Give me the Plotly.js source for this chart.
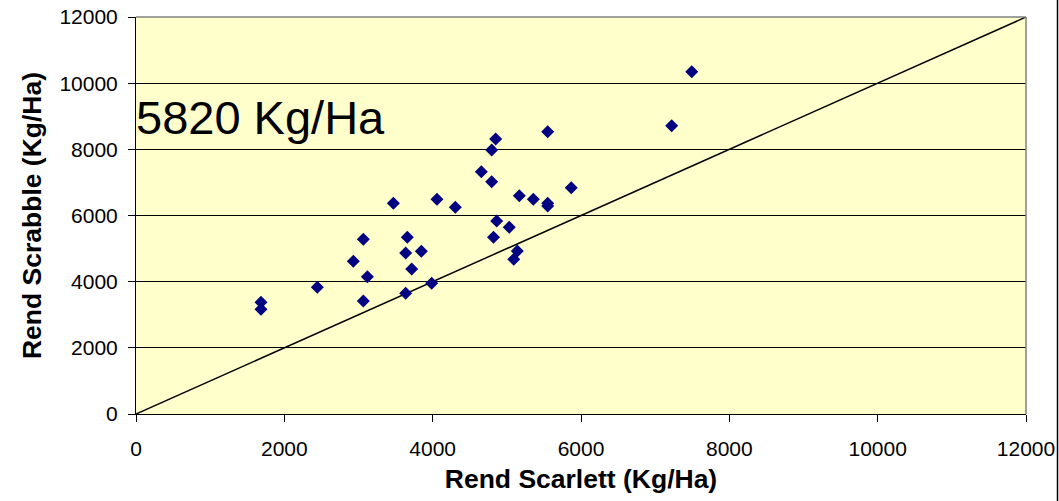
<!DOCTYPE html>
<html>
<head>
<meta charset="utf-8">
<script src="https://cdn.plot.ly/plotly-3.0.1.min.js"></script>
<style>html,body{margin:0;padding:0;background:#fff;}#chart{width:1059px;height:501px;}</style>
</head>
<body>
<div id="chart"></div>
<script>
// Rendement Scarlett (x) vs Scrabble (y), Kg/Ha
const scarlett = [1685, 1685, 2445, 2930, 3065, 3120, 3065, 3470, 3658, 3636, 3847, 3717, 3636, 3987, 4058, 4305, 4656, 4796, 4863, 4820, 4850, 4796, 5551, 5168, 5357, 5551, 5551, 5869, 5033, 5141, 5093, 7493, 7223];
const scrabble = [3376, 3170, 3830, 4615, 5280, 4150, 3416, 6368, 5340, 4866, 4917, 4383, 3648, 3950, 6489, 6248, 7325, 7022, 5834, 5340, 8312, 7980, 8534, 6600, 6489, 6368, 6287, 6841, 5644, 4927, 4675, 10347, 8715];
const diagX = [0, 12000];
const diagY = [0, 12000];
const axisTicks = [0, 2000, 4000, 6000, 8000, 10000, 12000];
const xTitle = 'Rend Scarlett (Kg/Ha)';
const yTitle = 'Rend Scrabble (Kg/Ha)';
const noteText = '5820 Kg/Ha';

const FONT = 'Arial, "Liberation Sans", sans-serif';

const traces = [
  {x: diagX, y: diagY, type: 'scatter', mode: 'lines',
   line: {color: '#000000', width: 1.5}, hoverinfo: 'skip', showlegend: false, cliponaxis: true},
  {x: scarlett, y: scrabble, type: 'scatter', mode: 'markers',
   marker: {symbol: 'diamond', size: 10, color: '#000080', line: {width: 0}},
   showlegend: false, cliponaxis: false}
];

const layout = {
  width: 1059, height: 501,
  margin: {l: 136, r: 33, t: 17, b: 87, pad: 0},
  paper_bgcolor: '#ffffff',
  plot_bgcolor: '#FFFFCC',
  font: {family: FONT, color: '#000000'},
  showlegend: false,
  xaxis: {
    range: [0, 12000], tickvals: axisTicks, ticktext: axisTicks.map(String),
    showgrid: false, zeroline: false,
    showline: true, linecolor: '#000000', linewidth: 1,
    ticks: 'outside', ticklen: 7, tickcolor: '#000000', tickwidth: 1,
    tickfont: {family: FONT, size: 21, color: '#000000'},
    ticklabelstandoff: 9,
    title: {text: xTitle, font: {family: FONT, size: 26.5, color: '#000000', weight: 'bold'}, standoff: 10},
    fixedrange: true
  },
  yaxis: {
    range: [0, 12000], tickvals: axisTicks, ticktext: axisTicks.map(String),
    showgrid: true, gridcolor: '#000000', gridwidth: 1,
    zeroline: false,
    showline: true, linecolor: '#000000', linewidth: 1,
    ticks: 'outside', ticklen: 7, tickcolor: '#000000', tickwidth: 1,
    tickfont: {family: FONT, size: 21, color: '#000000'},
    ticklabelstandoff: 6,
    title: {text: yTitle, font: {family: FONT, size: 26.5, color: '#000000', weight: 'bold'}, standoff: 10},
    fixedrange: true
  },
  shapes: [
    {type: 'line', xref: 'paper', yref: 'paper', x0: 0, x1: 1, y0: 1, y1: 1,
     line: {color: '#808080', width: 1.5}, layer: 'above'},
    {type: 'line', xref: 'paper', yref: 'paper', x0: 1, x1: 1, y0: 0, y1: 1,
     line: {color: '#808080', width: 1.5}, layer: 'above'},
    {type: 'line', xref: 'paper', yref: 'paper', x0: 1.0354, x1: 1.0354, y0: -0.22, y1: 1.05,
     line: {color: '#000000', width: 1.5}, layer: 'above'}
  ],
  annotations: [
    {text: noteText, xref: 'paper', yref: 'paper', x: 0, y: 0.748,
     xanchor: 'left', yanchor: 'middle', xshift: -2, showarrow: false,
     font: {family: FONT, size: 47, color: '#000000'}}
  ]
};

Plotly.newPlot('chart', traces, layout, {displayModeBar: false, staticPlot: true});
</script>
</body>
</html>
